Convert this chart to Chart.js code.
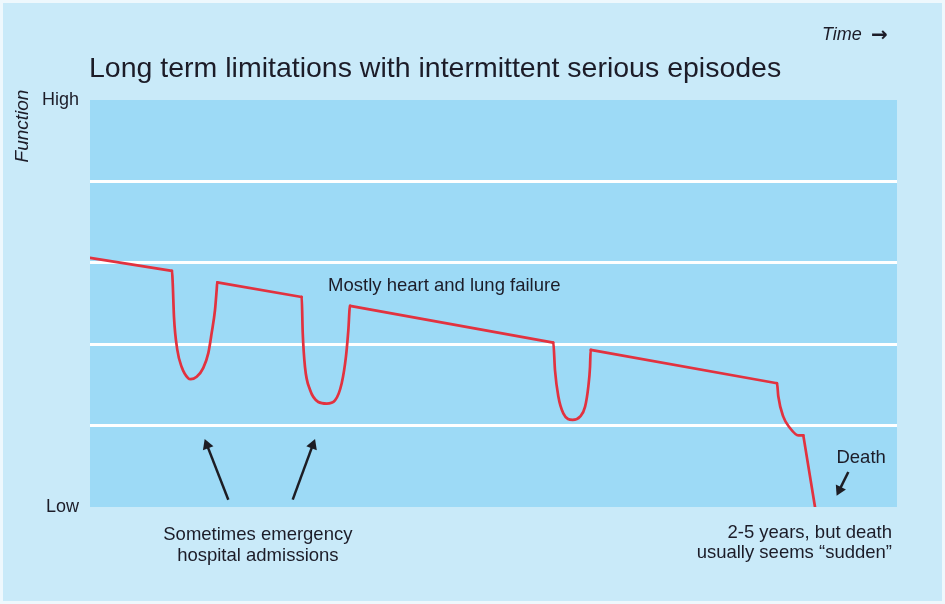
<!DOCTYPE html>
<html>
<head>
<meta charset="utf-8">
<script src="https://cdn.jsdelivr.net/npm/chart.js@4.4.1/dist/chart.umd.min.js"></script>
<style>
  html, body { margin: 0; padding: 0; background: #c9eaf9; }
  canvas { display: block; }
</style>
</head>
<body>
<canvas id="trajectory" width="945" height="604"></canvas>
<script>
// time runs 0..100 across, function 0 (Low) .. 5 (High)
const timeX = [
  0, 10.16, 10.25, 10.41, 10.82, 11.36, 12.18, 12.48, 13.22, 14.04, 14.66, 15.08, 15.49, 15.70, 15.77,
  26.23, 26.36, 26.64, 27.26, 28.29, 29.33, 30.36, 31.19, 31.72, 32.01, 32.22,
  57.41, 57.62, 58.03, 58.65, 59.81, 60.72, 61.34, 61.75, 61.96, 62.04,
  85.13, 85.29, 85.91, 86.74, 87.77, 88.39, 89.84
];
const functionY = [
  3.06, 2.90, 2.75, 2.33, 1.93, 1.72, 1.58, 1.57, 1.60, 1.71, 1.89, 2.14, 2.42, 2.67, 2.76,
  2.58, 2.14, 1.72, 1.44, 1.29, 1.27, 1.31, 1.52, 1.85, 2.17, 2.47,
  2.02, 1.68, 1.36, 1.15, 1.07, 1.11, 1.23, 1.48, 1.72, 1.93,
  1.52, 1.36, 1.11, 0.97, 0.88, 0.88, 0
];
// straight stretches between episodes (segment start indices), drawn without smoothing
const straightSegments = [0, 14, 25, 35, 41];

const yTickLabels = { 0: 'Low', 5: 'High' };

// arrows: [tailX, tailY, headX, headY, headRotation]
const admissionArrow1 = [17.14, 0.09, 14.5, 0.76, -21];
const admissionArrow2 = [25.12, 0.09, 27.6, 0.76, 21];
const deathArrow = [93.97, 0.43, 92.87, 0.21, 206];

const chartTitle = 'Long term limitations with intermittent serious episodes';
const xAxisNote = 'Time';
const yAxisNote = 'Function';
const curveNote = 'Mostly heart and lung failure';
const admissionNote = ['Sometimes emergency', 'hospital admissions'];
const durationNote = ['2-5 years, but death', 'usually seems \u201csudden\u201d'];
const deathNote = 'Death';

const points = timeX.map(function (x, i) { return { x: x, y: functionY[i] }; });

const RED = '#e2323f';
const HIDDEN = 'rgba(0,0,0,0)';

function isStraight(ctx) {
  return straightSegments.indexOf(ctx.p0DataIndex) !== -1;
}

function arrowDataset(a) {
  return {
    data: [{ x: a[0], y: a[1] }, { x: a[2], y: a[3] }],
    borderColor: '#1d1d24',
    backgroundColor: '#1d1d24',
    borderWidth: 2.5,
    pointStyle: 'triangle',
    pointRadius: [0, 6.5],
    pointRotation: [0, a[4]],
    pointBorderWidth: 0,
    pointBackgroundColor: '#1d1d24'
  };
}

const FONT = "'Liberation Sans', Arial, sans-serif";
const TEXT = '#1c1c28';

const decorations = {
  id: 'decorations',
  beforeDraw(chart) {
    const ctx = chart.ctx;
    const a = chart.chartArea;
    ctx.save();
    ctx.fillStyle = '#c9eaf9';
    ctx.fillRect(0, 0, chart.width, chart.height);
    ctx.strokeStyle = '#eef8fd';
    ctx.lineWidth = 3;
    ctx.strokeRect(1.5, 1.5, chart.width - 3, chart.height - 3);
    ctx.fillStyle = '#9ddaf6';
    ctx.fillRect(a.left, a.top, a.right - a.left, a.bottom - a.top);
    ctx.restore();
  },
  afterDraw(chart) {
    const ctx = chart.ctx;
    const xs = chart.scales.x;
    const ys = chart.scales.y;
    ctx.save();
    ctx.fillStyle = TEXT;
    ctx.textBaseline = 'alphabetic';

    ctx.font = '28.5px ' + FONT;
    ctx.textAlign = 'left';
    ctx.fillText(chartTitle, 89, 77);

    ctx.font = 'italic 18px ' + FONT;
    ctx.fillText(xAxisNote, 822, 40);
    ctx.font = 'bold 20px "DejaVu Sans", sans-serif';
    ctx.fillText('\u2192', 871, 41);

    ctx.save();
    ctx.translate(28, 126);
    ctx.rotate(-Math.PI / 2);
    ctx.textAlign = 'center';
    ctx.font = 'italic 19px ' + FONT;
    ctx.fillText(yAxisNote, 0, 0);
    ctx.restore();

    ctx.font = '18.5px ' + FONT;
    ctx.textAlign = 'left';
    ctx.fillText(curveNote, xs.getPixelForValue(29.5), ys.getPixelForValue(2.65));

    ctx.textAlign = 'center';
    ctx.fillText(admissionNote[0], xs.getPixelForValue(20.8), 540);
    ctx.fillText(admissionNote[1], xs.getPixelForValue(20.8), 561);

    ctx.textAlign = 'right';
    ctx.fillText(durationNote[0], 892, 538);
    ctx.fillText(durationNote[1], 892, 558);

    ctx.textAlign = 'left';
    ctx.fillText(deathNote, xs.getPixelForValue(92.5), ys.getPixelForValue(0.54));
    ctx.restore();
  }
};

new Chart(document.getElementById('trajectory'), {
  type: 'line',
  data: {
    datasets: [
      {
        // straight declines
        data: points,
        borderColor: RED,
        borderWidth: 2.7,
        borderCapStyle: 'round',
        borderJoinStyle: 'round',
        pointRadius: 0,
        tension: 0,
        fill: false,
        segment: { borderColor: function (c) { return isStraight(c) ? RED : HIDDEN; } }
      },
      {
        // the serious episodes, smoothed
        data: points,
        borderColor: RED,
        borderWidth: 2.7,
        borderCapStyle: 'round',
        borderJoinStyle: 'round',
        pointRadius: 0,
        cubicInterpolationMode: 'monotone',
        fill: false,
        segment: { borderColor: function (c) { return isStraight(c) ? HIDDEN : RED; } }
      },
      arrowDataset(admissionArrow1),
      arrowDataset(admissionArrow2),
      arrowDataset(deathArrow)
    ]
  },
  options: {
    responsive: false,
    animation: false,
    devicePixelRatio: 1,
    layout: { padding: { top: 100, right: 48, bottom: 97, left: 0 } },
    plugins: { legend: { display: false }, tooltip: { enabled: false } },
    scales: {
      x: { type: 'linear', min: 0, max: 100, display: false },
      y: {
        type: 'linear',
        min: 0,
        max: 5,
        afterFit: function (scale) { scale.width = 90; },
        border: { display: false },
        grid: {
          drawTicks: false,
          lineWidth: 3,
          color: function (c) {
            return c.tick && c.tick.value > 0 && c.tick.value < 5 ? '#ffffff' : 'rgba(0,0,0,0)';
          }
        },
        ticks: {
          stepSize: 1,
          padding: 11,
          color: TEXT,
          font: { family: FONT, size: 18 },
          callback: function (v) { return yTickLabels[v] || ''; }
        }
      }
    }
  },
  plugins: [decorations]
});
</script>
</body>
</html>
